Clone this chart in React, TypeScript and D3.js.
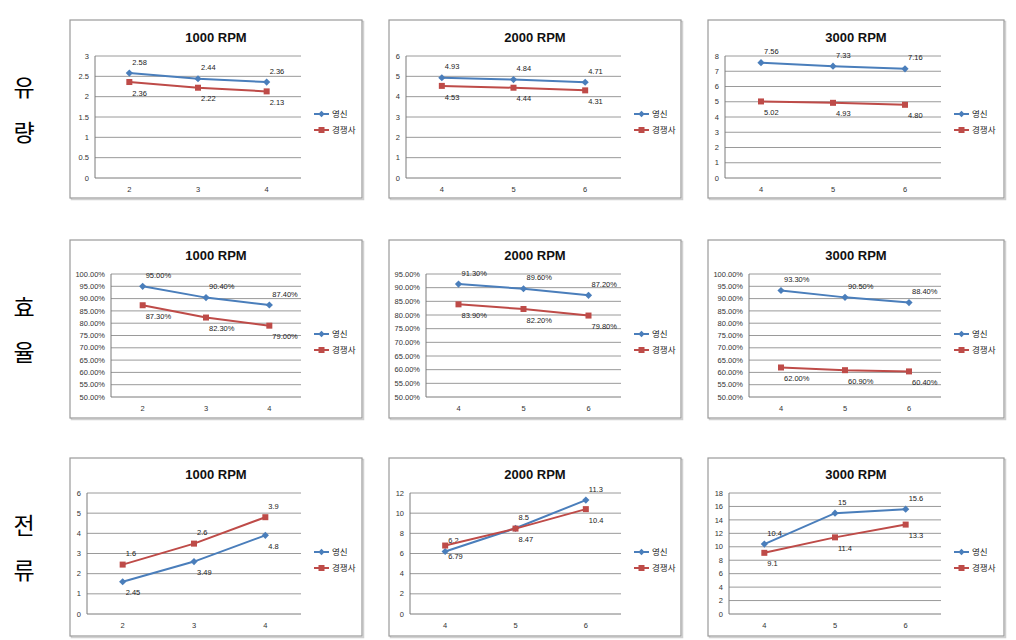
import React from "react";
import * as d3 from "d3";

// ---------- data ----------
const SERIES_NAMES = ["영신", "경쟁사"];
const ROW_LABELS = [["유", "량"], ["효", "율"], ["전", "류"]];
const TITLES = ["1000 RPM", "2000 RPM", "3000 RPM"];

const x1000 = ["2", "3", "4"];
const x2000 = ["4", "5", "6"];
const x3000 = ["4", "5", "6"];

// 유량 (flow)
const flow1000A = [2.58, 2.44, 2.36];
const flow1000B = [2.36, 2.22, 2.13];
const flow2000A = [4.93, 4.84, 4.71];
const flow2000B = [4.53, 4.44, 4.31];
const flow3000A = [7.56, 7.33, 7.16];
const flow3000B = [5.02, 4.93, 4.8];
const flow1000Ticks = [0, 0.5, 1, 1.5, 2, 2.5, 3];
const flow2000Ticks = [0, 1, 2, 3, 4, 5, 6];
const flow3000Ticks = [0, 1, 2, 3, 4, 5, 6, 7, 8];

// 효율 (efficiency, %)
const eff1000A = [95.0, 90.4, 87.4];
const eff1000B = [87.3, 82.3, 79.0];
const eff2000A = [91.3, 89.6, 87.2];
const eff2000B = [83.9, 82.2, 79.8];
const eff3000A = [93.3, 90.5, 88.4];
const eff3000B = [62.0, 60.9, 60.4];
const eff100Ticks = [50, 55, 60, 65, 70, 75, 80, 85, 90, 95, 100];
const eff95Ticks = [50, 55, 60, 65, 70, 75, 80, 85, 90, 95];

// 전류 (current)
const cur1000A = [1.6, 2.6, 3.9];
const cur1000B = [2.45, 3.49, 4.8];
const cur1000ALabels = ["2.45", "3.49", "4.8"];
const cur1000BLabels = ["1.6", "2.6", "3.9"];
const cur2000A = [6.2, 8.5, 11.3];
const cur2000B = [6.79, 8.47, 10.4];
const cur3000A = [10.4, 15, 15.6];
const cur3000B = [9.1, 11.4, 13.3];
const cur1000Ticks = [0, 1, 2, 3, 4, 5, 6];
const cur2000Ticks = [0, 2, 4, 6, 8, 10, 12];
const cur3000Ticks = [0, 2, 4, 6, 8, 10, 12, 14, 16, 18];

// ---------- layout ----------
const COL_X = [70, 389, 708];
const COL_W = [292, 292, 296];
const ROW_Y = [20, 240, 458];
const PANEL_H = 178;
const PLOT_RIGHT = [231, 232, 233];
const PLOT_TOP = [36, 34, 35];
const PLOT_BOTTOM = [158, 157, 156];

const BLUE = "#4a7ebb";
const RED = "#be4b48";
const FONT = "'Liberation Sans', Arial, sans-serif";
const KFONT = "'Noto Sans CJK KR', sans-serif";

const fmt2 = (v: number) => v.toFixed(2);
const fmtPct = (v: number) => v.toFixed(2) + "%";
const fmtRaw = (v: number) => String(v);

type Chart = {
  cats: string[];
  a: number[];
  b: number[];
  ticks: number[];
  tickFmt: (v: number) => string;
  labelFmt: (v: number) => string;
  aLabels?: string[];
  bLabels?: string[];
  aPos: "above" | "below";
  bPos: "above" | "below";
};

const ROWS: Chart[][] = [
  [
    { cats: x1000, a: flow1000A, b: flow1000B, ticks: flow1000Ticks, tickFmt: fmtRaw, labelFmt: fmt2, aPos: "above", bPos: "below" },
    { cats: x2000, a: flow2000A, b: flow2000B, ticks: flow2000Ticks, tickFmt: fmtRaw, labelFmt: fmt2, aPos: "above", bPos: "below" },
    { cats: x3000, a: flow3000A, b: flow3000B, ticks: flow3000Ticks, tickFmt: fmtRaw, labelFmt: fmt2, aPos: "above", bPos: "below" },
  ],
  [
    { cats: x1000, a: eff1000A, b: eff1000B, ticks: eff100Ticks, tickFmt: fmtPct, labelFmt: fmtPct, aPos: "above", bPos: "below" },
    { cats: x2000, a: eff2000A, b: eff2000B, ticks: eff95Ticks, tickFmt: fmtPct, labelFmt: fmtPct, aPos: "above", bPos: "below" },
    { cats: x3000, a: eff3000A, b: eff3000B, ticks: eff100Ticks, tickFmt: fmtPct, labelFmt: fmtPct, aPos: "above", bPos: "below" },
  ],
  [
    { cats: x1000, a: cur1000A, b: cur1000B, ticks: cur1000Ticks, tickFmt: fmtRaw, labelFmt: fmtRaw, aLabels: cur1000ALabels, bLabels: cur1000BLabels, aPos: "below", bPos: "above" },
    { cats: x2000, a: cur2000A, b: cur2000B, ticks: cur2000Ticks, tickFmt: fmtRaw, labelFmt: fmtRaw, aPos: "above", bPos: "below" },
    { cats: x3000, a: cur3000A, b: cur3000B, ticks: cur3000Ticks, tickFmt: fmtRaw, labelFmt: fmtRaw, aPos: "above", bPos: "below" },
  ],
];

function Diamond({ x, y, r, fill }: { x: number; y: number; r: number; fill: string }) {
  return <path d={`M${x},${y - r}L${x + r},${y}L${x},${y + r}L${x - r},${y}Z`} fill={fill} />;
}
function Square({ x, y, s, fill }: { x: number; y: number; s: number; fill: string }) {
  return <rect x={x - s / 2} y={y - s / 2} width={s} height={s} fill={fill} />;
}

function Panel({ chart, row, col }: { chart: Chart; row: number; col: number }) {
  const px = COL_X[col];
  const py = ROW_Y[row];
  const pw = COL_W[col];
  const maxChars = d3.max(chart.ticks, (t) => chart.tickFmt(t).length) || 1;
  const left = 13 + 4 * maxChars;
  const right = PLOT_RIGHT[col];
  const top = PLOT_TOP[row];
  const bottom = PLOT_BOTTOM[row];
  const x = d3.scalePoint<string>().domain(chart.cats).range([left, right]).padding(0.5);
  const y = d3
    .scaleLinear()
    .domain([chart.ticks[0], chart.ticks[chart.ticks.length - 1]])
    .range([bottom, top]);
  const line = d3
    .line<number>()
    .x((_, i) => x(chart.cats[i]) as number)
    .y((d) => y(d));

  const series = [
    { vals: chart.a, color: BLUE, labels: chart.aLabels, pos: chart.aPos, kind: "d" },
    { vals: chart.b, color: RED, labels: chart.bLabels, pos: chart.bPos, kind: "s" },
  ];

  return (
    <g transform={`translate(${px},${py})`}>
      <rect x={1.5} y={1.5} width={pw} height={PANEL_H} fill="none" stroke="#d0d0d0" strokeWidth={1.5} />
      <rect x={0} y={0} width={pw} height={PANEL_H} fill="#fff" stroke="#9a9a9a" strokeWidth={1.2} />
      <text x={pw / 2} y={top - 14} textAnchor="middle" fontFamily={FONT} fontWeight="bold" fontSize={13} fill="#111">
        {TITLES[col]}
      </text>
      {chart.ticks.map((t) => (
        <g key={t}>
          <line x1={left} x2={right} y1={y(t)} y2={y(t)} stroke={t === chart.ticks[0] ? "#7a7a7a" : "#9a9a9a"} strokeWidth={1} />
          <text x={left - 6} y={y(t)} dy="0.35em" textAnchor="end" fontFamily={FONT} fontSize={7.5} fill="#333">
            {chart.tickFmt(t)}
          </text>
        </g>
      ))}
      <line x1={left} x2={left} y1={top} y2={bottom} stroke="#7a7a7a" strokeWidth={1} />
      {chart.cats.map((c) => (
        <text key={c} x={x(c)} y={bottom + 11} dy="0.35em" textAnchor="middle" fontFamily={FONT} fontSize={7.5} fill="#333">
          {c}
        </text>
      ))}
      {series.map((s, si) => (
        <g key={si}>
          <path d={line(s.vals) || ""} fill="none" stroke={s.color} strokeWidth={2} />
          {s.vals.map((v, i) => {
            const cx = x(chart.cats[i]) as number;
            const cy = y(v);
            return s.kind === "d" ? (
              <Diamond key={i} x={cx} y={cy} r={3.6} fill={s.color} />
            ) : (
              <Square key={i} x={cx} y={cy} s={6} fill={s.color} />
            );
          })}
          {s.vals.map((v, i) => {
            const cx = x(chart.cats[i]) as number;
            const cy = y(v) + (s.pos === "above" ? -11 : 11);
            const txt = s.labels ? s.labels[i] : chart.labelFmt(v);
            return (
              <text key={"l" + i} x={cx + 3} y={cy} dy="0.35em" fontFamily={FONT} fontSize={7.5} fill="#222">
                {txt}
              </text>
            );
          })}
        </g>
      ))}
      {SERIES_NAMES.map((name, i) => {
        const ly = 94 + i * 16;
        const lx = right + 13;
        const color = i === 0 ? BLUE : RED;
        return (
          <g key={name}>
            <line x1={lx} x2={lx + 15} y1={ly} y2={ly} stroke={color} strokeWidth={2} />
            {i === 0 ? (
              <Diamond x={lx + 7.5} y={ly} r={3.2} fill={color} />
            ) : (
              <Square x={lx + 7.5} y={ly} s={6} fill={color} />
            )}
            <text x={lx + 18} y={ly} dy="0.35em" fontFamily={KFONT} fontSize={8.5} fill="#222">
              {name}
            </text>
          </g>
        );
      })}
    </g>
  );
}

export default function App() {
  return (
    <div style={{ position: "absolute", left: 0, top: 0 }}>
      <svg width={1016} height={640} style={{ display: "block", background: "#fff" }}>
        <rect width={1016} height={640} fill="#fff" />
        {ROW_LABELS.map((pair, r) => {
          const cy = ROW_Y[r] + PANEL_H / 2;
          return (
            <g key={r}>
              <text x={24} y={cy - 21} dy="0.35em" textAnchor="middle" fontFamily={KFONT} fontSize={23} fill="#000">
                {pair[0]}
              </text>
              <text x={24} y={cy + 24} dy="0.35em" textAnchor="middle" fontFamily={KFONT} fontSize={23} fill="#000">
                {pair[1]}
              </text>
            </g>
          );
        })}
        {ROWS.map((row, r) => row.map((chart, c) => <Panel key={`${r}-${c}`} chart={chart} row={r} col={c} />))}
      </svg>
    </div>
  );
}
